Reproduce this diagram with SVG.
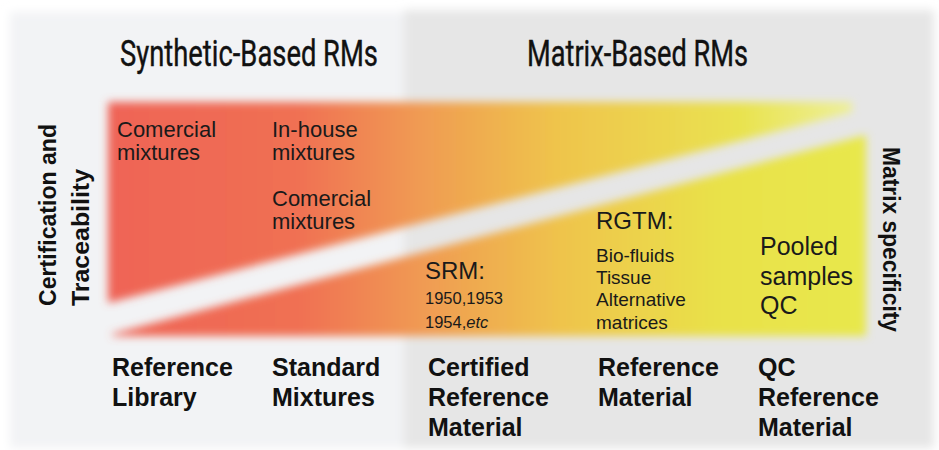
<svg xmlns="http://www.w3.org/2000/svg" width="939" height="450" viewBox="0 0 939 450">
<defs>
<style>
.hdr{font-family:Roboto,"Liberation Sans",sans-serif;font-size:36px;fill:#111;stroke:#111;stroke-width:0.4px;}
.vt{font-family:"Liberation Sans",Arial,sans-serif;font-weight:bold;font-size:24px;fill:#111;}
.lbl{font-family:"Liberation Sans",Arial,sans-serif;font-weight:bold;font-size:25px;fill:#111;}
.in{font-family:"Liberation Sans",Arial,sans-serif;fill:#1a1a1a;}
</style>
<linearGradient id="grad" gradientUnits="userSpaceOnUse" x1="110" y1="0" x2="865" y2="0">
<stop offset="0" stop-color="#ef6456"/>
<stop offset="0.25" stop-color="#f07052"/>
<stop offset="0.42" stop-color="#f09c52"/>
<stop offset="0.6" stop-color="#efc44c"/>
<stop offset="0.8" stop-color="#e9e14a"/>
<stop offset="1" stop-color="#e8e84c"/>
</linearGradient>
<linearGradient id="gradTop" gradientUnits="userSpaceOnUse" x1="110" y1="0" x2="855" y2="0">
<stop offset="0" stop-color="#ef6456"/>
<stop offset="0.25" stop-color="#f07052"/>
<stop offset="0.42" stop-color="#f09c52"/>
<stop offset="0.6" stop-color="#efc44c"/>
<stop offset="0.85" stop-color="#e9e350"/>
<stop offset="1" stop-color="#eef09a"/>
</linearGradient>
<filter id="blur" x="-5%" y="-10%" width="110%" height="120%"><feGaussianBlur stdDeviation="4"/></filter>
<filter id="blur2" x="-5%" y="-5%" width="110%" height="110%"><feGaussianBlur stdDeviation="5"/></filter>
</defs>
<rect width="939" height="450" fill="#ffffff"/>
<g id="panels" filter="url(#blur2)">
<rect x="10" y="12" width="400" height="436" fill="#f2f3f5"/>
<rect x="404" y="10" width="530" height="438" fill="#e6e6e6"/>
</g>
<g id="bands" filter="url(#blur)">
<polygon points="108,102 852,102 852,112 108,303" fill="url(#gradTop)"/>
<polygon points="112,334 866,135 866,336 112,336" fill="url(#grad)"/>
</g>
<g id="header-synthetic"><text class="hdr" x="120" y="66" textLength="258" lengthAdjust="spacingAndGlyphs">Synthetic-Based RMs</text></g>
<g id="header-matrix"><text class="hdr" x="527" y="66" textLength="221" lengthAdjust="spacingAndGlyphs">Matrix-Based RMs</text></g>
<g id="axis-left">
<text class="vt" transform="translate(56,306) rotate(-90)" textLength="182" lengthAdjust="spacingAndGlyphs">Certification and</text>
<text class="vt" transform="translate(89,306) rotate(-90)" textLength="137" lengthAdjust="spacingAndGlyphs">Traceability</text>
</g>
<g id="axis-right">
<text class="vt" transform="translate(883,147) rotate(90)" textLength="185" lengthAdjust="spacingAndGlyphs">Matrix specificity</text>
</g>
<g id="n-commercial1" class="in" font-size="22">
<text x="117" y="137">Comercial</text><text x="117" y="160">mixtures</text>
</g>
<g id="n-inhouse" class="in" font-size="22">
<text x="272" y="137">In-house</text><text x="272" y="160">mixtures</text>
</g>
<g id="n-commercial2" class="in" font-size="22">
<text x="272" y="206">Comercial</text><text x="272" y="229">mixtures</text>
</g>
<g id="n-srm" class="in">
<text x="425" y="279" font-size="24">SRM:</text>
<text x="425" y="304" font-size="16.5">1950,1953</text>
<text x="425" y="328" font-size="16.5">1954,<tspan font-style="italic">etc</tspan></text>
</g>
<g id="n-rgtm" class="in">
<text x="596" y="229" font-size="24">RGTM:</text>
<text x="596" y="262" font-size="19">Bio-fluids</text>
<text x="596" y="284" font-size="19">Tissue</text>
<text x="596" y="306" font-size="19">Alternative</text>
<text x="596" y="329" font-size="19">matrices</text>
</g>
<g id="n-pooled" class="in" font-size="25">
<text x="760" y="255">Pooled</text>
<text x="760" y="285">samples</text>
<text x="760" y="314">QC</text>
</g>
<g id="l-reflib"><text class="lbl" x="112" y="376">Reference</text><text class="lbl" x="112" y="406">Library</text></g>
<g id="l-stdmix"><text class="lbl" x="272" y="376">Standard</text><text class="lbl" x="272" y="406">Mixtures</text></g>
<g id="l-crm"><text class="lbl" x="428" y="376">Certified</text><text class="lbl" x="428" y="406">Reference</text><text class="lbl" x="428" y="436">Material</text></g>
<g id="l-rm"><text class="lbl" x="598" y="376">Reference</text><text class="lbl" x="598" y="406">Material</text></g>
<g id="l-qcrm"><text class="lbl" x="758" y="376">QC</text><text class="lbl" x="758" y="406">Reference</text><text class="lbl" x="758" y="436">Material</text></g>
</svg>
